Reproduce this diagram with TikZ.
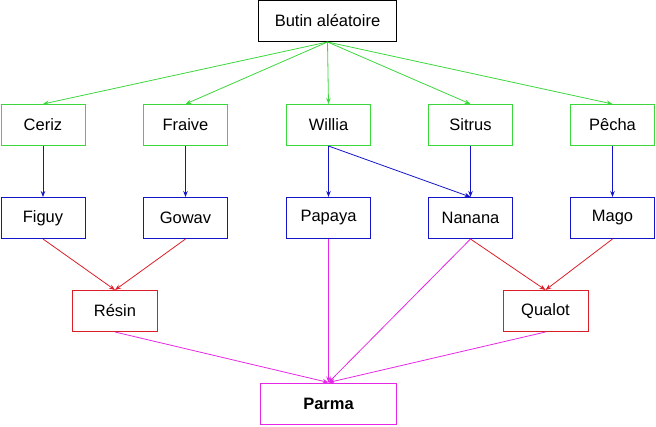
\documentclass[tikz,border=0pt]{standalone}
\usepackage{fontspec}
\setmainfont{Liberation Sans}
\usetikzlibrary{arrows.meta}
\definecolor{cgreen}{RGB}{60,215,60}
\definecolor{cblue}{RGB}{20,20,200}
\definecolor{cred}{RGB}{220,30,40}
\definecolor{cmag}{RGB}{230,40,230}
\tikzset{
  box/.style={draw, rectangle, line width=1pt, inner sep=0pt, font=\fontsize{16.5}{19}\selectfont, minimum height=41pt},
  gbox/.style={box, draw=cgreen, minimum width=84pt},
  bbox/.style={box, draw=cblue, minimum width=84pt},
  rbox/.style={box, draw=cred, minimum width=85pt},
  kbox/.style={box, draw=black, minimum width=138pt},
  mbox/.style={box, draw=cmag, minimum width=136pt},
  conn/.style={line width=0.8pt, -{Stealth[length=6pt,width=4.5pt]}},
  gconn/.style={conn, draw=cgreen},
  bconn/.style={conn, draw=cblue},
  rconn/.style={conn, draw=cred},
  mconn/.style={conn, draw=cmag},
}
\begin{document}
\begin{tikzpicture}[x=1pt,y=-1pt]
\useasboundingbox (0,0) rectangle (656,426);
\node[kbox] (top) at (327.5,21) {Butin aléatoire};
\node[gbox] (ceriz) at (43,125) {Ceriz};
\node[gbox] (fraive) at (185.5,125) {Fraive};
\node[gbox] (willia) at (328.5,125) {Willia};
\node[gbox] (sitrus) at (470.5,125) {Sitrus};
\node[gbox] (pecha) at (612.5,125) {Pêcha};
\node[bbox] (figuy) at (43,218) {Figuy};
\node[bbox] (gowav) at (185.5,218) {Gowav};
\node[bbox] (papaya) at (328.5,218) {Papaya};
\node[bbox] (nanana) at (470.5,218) {Nanana};
\node[bbox] (mago) at (612.5,218) {Mago};
\node[rbox] (resin) at (115,311) {Résin};
\node[rbox] (qualot) at (545.5,311) {Qualot};
\node[mbox] (parma) at (328.5,403.5) {\bfseries Parma};
\foreach \n in {ceriz,fraive,willia,sitrus,pecha}
  \draw[gconn] (top.south) -- (\n.north);
\draw[bconn] (ceriz.south) -- (figuy.north);
\draw[bconn] (fraive.south) -- (gowav.north);
\draw[bconn] (willia.south) -- (papaya.north);
\draw[bconn] (willia.south) -- (nanana.north);
\draw[bconn] (sitrus.south) -- (nanana.north);
\draw[bconn] (pecha.south) -- (mago.north);
\draw[rconn] (figuy.south) -- (resin.north);
\draw[rconn] (gowav.south) -- (resin.north);
\draw[rconn] (nanana.south) -- (qualot.north);
\draw[rconn] (mago.south) -- (qualot.north);
\draw[mconn] (resin.south) -- (parma.north);
\draw[mconn] (papaya.south) -- (parma.north);
\draw[mconn] (nanana.south) -- (parma.north);
\draw[mconn] (qualot.south) -- (parma.north);
\end{tikzpicture}
\end{document}
